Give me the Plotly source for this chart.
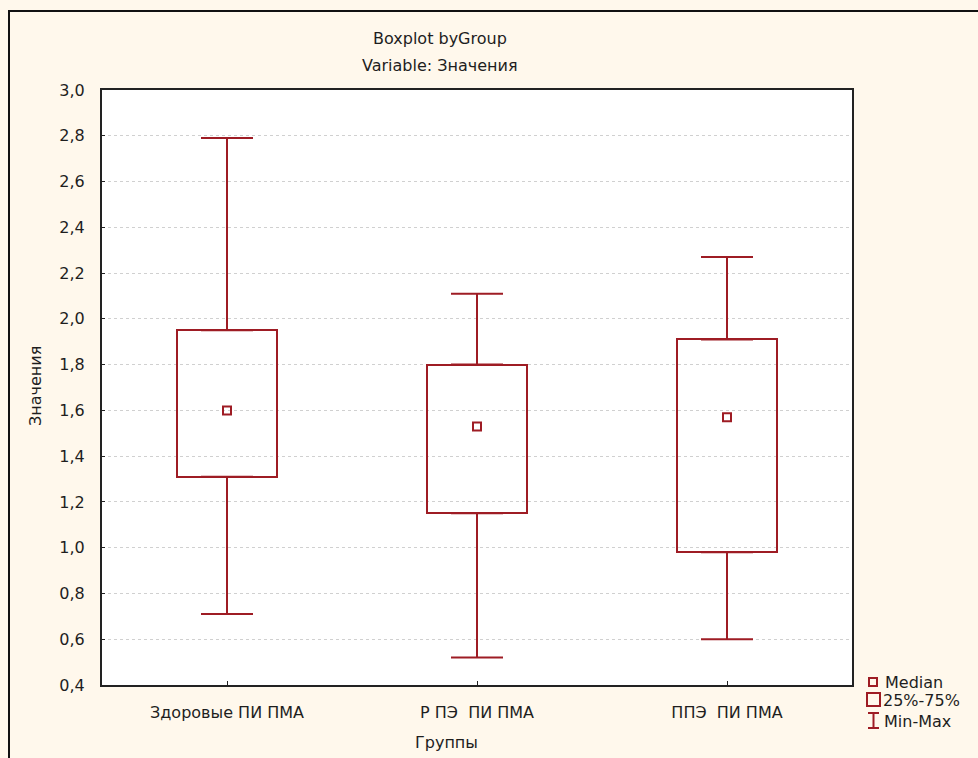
import plotly.graph_objects as go

groups = ["Здоровые ПИ ПМА", "Р ПЭ  ПИ ПМА", "ППЭ  ПИ ПМА"]
minimum = [0.71, 0.52, 0.60]
q1 = [1.31, 1.15, 0.98]
median = [1.60, 1.53, 1.57]
q3 = [1.95, 1.80, 1.91]
maximum = [2.79, 2.11, 2.27]

RED = "#9E1C24"
TXT = "#1e1e1e"
FONT = "DejaVu Sans"
BG = "#FFF8EC"
FS = 16

L, R, T, B = 102, 126, 90, 73
W, H = 978, 758
pw, ph = W - L - R, H - T - B

def px(x):
    return (x - L) / pw

def py(y):
    return (H - B - y) / ph

fig = go.Figure()

fig.add_trace(go.Bar(
    x=groups, y=[a - b for a, b in zip(q3, q1)], base=q1, width=0.4,
    marker=dict(color="rgba(255,255,255,0)", line=dict(color=RED, width=2)),
    showlegend=False, hoverinfo="skip"))

fig.add_trace(go.Scatter(
    x=groups, y=q3, mode="markers",
    marker=dict(size=1, color="rgba(0,0,0,0)"),
    error_y=dict(type="data", symmetric=False,
                 array=[a - b for a, b in zip(maximum, q3)],
                 arrayminus=[0, 0, 0], width=26, thickness=2, color=RED),
    showlegend=False, hoverinfo="skip"))

fig.add_trace(go.Scatter(
    x=groups, y=q1, mode="markers",
    marker=dict(size=1, color="rgba(0,0,0,0)"),
    error_y=dict(type="data", symmetric=False,
                 array=[0, 0, 0],
                 arrayminus=[a - b for a, b in zip(q1, minimum)],
                 width=26, thickness=2, color=RED),
    showlegend=False, hoverinfo="skip"))

fig.add_trace(go.Scatter(
    x=groups, y=median, mode="markers",
    marker=dict(symbol="square-open", size=8, color=RED, line=dict(width=2, color=RED)),
    showlegend=False, hoverinfo="skip"))

shapes = [
    dict(type="rect", xref="paper", yref="paper",
         x0=px(9), x1=px(1100), y0=py(900), y1=py(11),
         line=dict(color="#111", width=2), fillcolor="rgba(0,0,0,0)", layer="below"),
    # legend symbols
    dict(type="rect", xref="paper", yref="paper",
         x0=px(869), x1=px(877), y0=py(686), y1=py(678),
         line=dict(color=RED, width=2)),
    dict(type="rect", xref="paper", yref="paper",
         x0=px(867), x1=px(880), y0=py(706), y1=py(693),
         line=dict(color=RED, width=2)),
    dict(type="line", xref="paper", yref="paper",
         x0=px(873.5), x1=px(873.5), y0=py(728), y1=py(713),
         line=dict(color=RED, width=2)),
    dict(type="line", xref="paper", yref="paper",
         x0=px(868), x1=px(879), y0=py(713), y1=py(713),
         line=dict(color=RED, width=2)),
    dict(type="line", xref="paper", yref="paper",
         x0=px(868), x1=px(879), y0=py(728), y1=py(728),
         line=dict(color=RED, width=2)),
]

def ann(text, x, y, size=FS, xanchor="center", angle=0):
    return dict(text=text, xref="paper", yref="paper", x=px(x), y=py(y),
                xanchor=xanchor, yanchor="middle", showarrow=False,
                textangle=angle, font=dict(family=FONT, size=size, color=TXT))

annotations = [
    ann("Boxplot byGroup", 440, 38),
    ann("Variable: Значения", 440, 66),
    ann("Значения", 35, 386, angle=-90),
    ann("Группы", 446, 742),
    ann("Median", 883, 682, xanchor="left"),
    ann("25%-75%", 881, 700, xanchor="left"),
    ann("Min-Max", 882, 721, xanchor="left"),
]

fig.update_layout(
    width=W, height=H,
    margin=dict(l=L, r=R, t=T, b=B),
    paper_bgcolor=BG, plot_bgcolor="white",
    separators=", ",
    shapes=shapes, annotations=annotations,
    font=dict(family=FONT, size=FS, color=TXT),
    bargap=0,
)

fig.update_xaxes(
    type="category", range=[-0.5, 2.5],
    showline=True, mirror=True, linecolor="#222", linewidth=2,
    showgrid=False, ticks="inside", ticklen=4, tickcolor="#222",
    ticklabelstandoff=12, zeroline=False,
    tickfont=dict(family=FONT, size=FS, color=TXT))

fig.update_yaxes(
    range=[0.4, 3.0], dtick=0.2, tick0=0.4, tickformat=".1f",
    showline=True, mirror=True, linecolor="#222", linewidth=2,
    showgrid=True, gridcolor="#d0d0d0", griddash="dot", gridwidth=1,
    ticks="inside", ticklen=3, tickcolor="#222",
    ticklabelstandoff=12, zeroline=False,
    tickfont=dict(family=FONT, size=FS, color=TXT))

fig.write_html("out.html")
